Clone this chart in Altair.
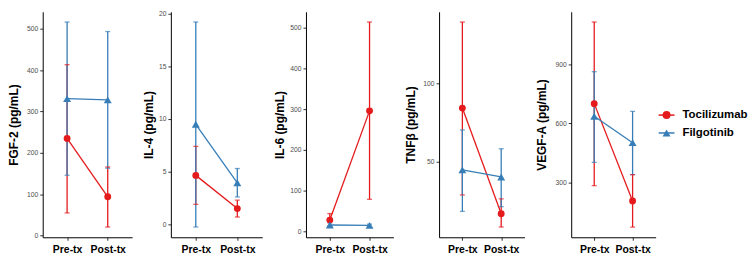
import altair as alt
import pandas as pd

# Cytokine panels
markers = ["FGF-2", "IL-4", "IL-6", "TNFβ", "VEGF-A"]
y_titles = ["FGF-2 (pg/mL)", "IL-4 (pg/mL)", "IL-6 (pg/mL)", "TNFβ (pg/mL)", "VEGF-A (pg/mL)"]
timepoints = ["Pre-tx", "Post-tx"]
groups = ["Tocilizumab", "Filgotinib"]
group_colors = ["#E41A1C", "#377EB8"]
group_shapes = ["circle", "triangle-up"]
group_sizes = [48, 64]

# Per marker: [Pre-tx, Post-tx]
toci_mean = [[235, 94], [4.65, 1.5], [28, 296], [84, 16.5], [700, 206]]
toci_lo = [[55, 21], [1.9, 0.7], [14, 79], [28.5, 8], [284, 74]]
toci_hi = [[413, 166], [7.4, 2.3], [44, 514], [139, 26], [1114, 340]]
filg_mean = [[331, 328], [9.5, 3.95], [16, 15], [44.5, 40], [636, 502]]
filg_lo = [[146, 163], [-0.25, 2.6], [11, 12], [18, 21], [402, 340]]
filg_hi = [[516, 493], [19.2, 5.3], [21, 18], [70, 58], [862, 661]]

y_ticks = [
    [0, 100, 200, 300, 400, 500],
    [0, 5, 10, 15, 20],
    [0, 100, 200, 300, 400, 500],
    [50, 100],
    [300, 600, 900],
]

# Panel geometry
panel_widths = [90, 92, 88, 86, 85]
label_extents = [21, 14, 19, 21, 22]
PANEL_H = 227

FONT = "Liberation Sans"

rows = []
for i, m in enumerate(markers):
    for g, mean, lo, hi in [
        ("Tocilizumab", toci_mean, toci_lo, toci_hi),
        ("Filgotinib", filg_mean, filg_lo, filg_hi),
    ]:
        for j, tp in enumerate(timepoints):
            rows.append(dict(marker=m, group=g, time=tp,
                             mean=mean[i][j], lo=lo[i][j], hi=hi[i][j]))
df = pd.DataFrame(rows)

color = alt.Color("group:N", scale=alt.Scale(domain=groups, range=group_colors), legend=None)
shape = alt.Shape("group:N", scale=alt.Scale(domain=groups, range=group_shapes), legend=None)
size = alt.Size("group:N", scale=alt.Scale(domain=groups, range=group_sizes), legend=None)
x_enc = alt.X(
    "time:N",
    sort=timepoints,
    scale=alt.Scale(type="point", domain=timepoints, padding=0.6),
    axis=alt.Axis(title=None, labelAngle=0, labelFontSize=10.5, labelFontWeight="bold",
                  labelColor="black", labelFont=FONT, tickSize=3, tickColor="#333333",
                  domainColor="black", domainWidth=1, labelPadding=4),
)


def panel(i):
    sub = df[df.marker == markers[i]]
    lo_all = min(sub["lo"].min(), sub["mean"].min())
    hi_all = max(sub["hi"].max(), sub["mean"].max())
    pad = (hi_all - lo_all) * 0.05
    scale = alt.Scale(domain=[lo_all - pad, hi_all + pad], nice=False, zero=False)
    axis = alt.Axis(
        values=y_ticks[i], title=y_titles[i], grid=False,
        titleFontSize=12, titleFontWeight="bold", titleColor="black", titleFont=FONT,
        titlePadding=1, minExtent=label_extents[i], maxExtent=label_extents[i],
        labelFontSize=6.8, labelColor="#4d4d4d", labelFont=FONT, labelPadding=2,
        tickSize=3, tickColor="#333333", domainColor="black", domainWidth=1,
    )
    base = alt.Chart(sub)
    bars = base.mark_rule(strokeWidth=1.3).encode(
        x=x_enc, y=alt.Y("lo:Q", scale=scale, axis=axis), y2="hi:Q", color=color)
    cap_lo = base.mark_tick(size=5, thickness=1.3).encode(
        x=x_enc, y=alt.Y("lo:Q", scale=scale, axis=axis), color=color)
    cap_hi = base.mark_tick(size=5, thickness=1.3).encode(
        x=x_enc, y=alt.Y("hi:Q", scale=scale, axis=axis), color=color)
    lines = base.mark_line(strokeWidth=1.3).encode(
        x=x_enc, y=alt.Y("mean:Q", scale=scale, axis=axis), color=color, detail="group:N")
    pts = base.mark_point(filled=True, opacity=1).encode(
        x=x_enc, y=alt.Y("mean:Q", scale=scale, axis=axis), color=color, shape=shape,
        size=size)
    return alt.layer(bars, cap_lo, cap_hi, lines, pts).properties(
        width=panel_widths[i], height=PANEL_H)


panels = alt.hconcat(*[panel(i) for i in range(len(markers))], spacing=11)

# Legend drawn as its own small panel
leg_df = pd.DataFrame({"group": groups})
leg_y = alt.Y("group:N", scale=alt.Scale(type="point", domain=groups, range=[104, 122], padding=0),
              axis=None)
leg_base = alt.Chart(leg_df)
leg_line = leg_base.mark_rule(strokeWidth=1.5).encode(
    x=alt.value(3), x2=alt.value(19), y=leg_y, color=color)
leg_pts = leg_base.mark_point(filled=True, opacity=1, size=64).encode(
    x=alt.value(11), y=leg_y, color=color, shape=shape)
leg_txt = leg_base.mark_text(align="left", baseline="middle", fontSize=11.5,
                             fontWeight="bold", font=FONT, color="black").encode(
    x=alt.value(27), y=leg_y, text="group:N")
legend = alt.layer(leg_line, leg_pts, leg_txt).properties(width=95, height=PANEL_H)

chart = alt.hconcat(panels, legend, spacing=0).properties(
    padding={"left": 8, "top": 9, "right": 0, "bottom": 0}
).configure(font=FONT, background="white").configure_view(strokeWidth=0, stroke="transparent")

chart.save("out.html", embed_options={"renderer": "svg", "actions": False})
